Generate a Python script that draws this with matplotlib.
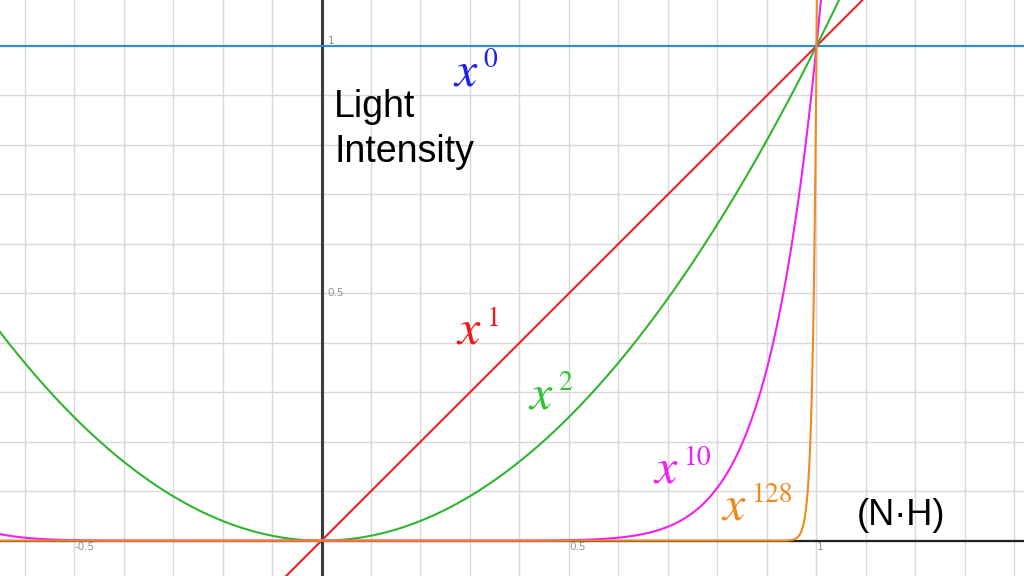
import numpy as np
import matplotlib
matplotlib.use("Agg")
import matplotlib.pyplot as plt
from matplotlib.ticker import MultipleLocator

# exponents of the plotted curves y = x**n
exponents = [0, 1, 2, 10, 128]
curve_colors = ["#2b8ce0", "#f02020", "#2fb52f", "#f020f0", "#f08a20"]
label_colors = ["#2020e8", "#f01818", "#33c433", "#f020f0", "#f08a20"]
label_sups = ["0", "1", "2", "10", "128"]
# left edge / baseline of each "x" label, in data units
label_pos = [(0.266, 0.921), (0.272, 0.398), (0.417, 0.268), (0.670, 0.117), (0.807, 0.042)]

x_ticks = [-0.5, 0.5, 1]
y_ticks = [0.5, 1]

XLIM = (-0.6495, 1.4192)
YLIM = (-0.0714, 1.093)

plt.rcParams["mathtext.fontset"] = "stix"

fig = plt.figure(figsize=(10.24, 5.76), dpi=100)
ax = fig.add_axes([0, 0, 1, 1])
ax.set_xlim(*XLIM)
ax.set_ylim(*YLIM)
for s in ax.spines.values():
    s.set_visible(False)
ax.tick_params(which="both", length=0, labelbottom=False, labelleft=False)
ax.set_axisbelow(True)

# grid every 0.1
ax.xaxis.set_major_locator(MultipleLocator(0.1))
ax.yaxis.set_major_locator(MultipleLocator(0.1))
ax.grid(which="major", color="#d8d8d8", lw=1.0)

# axes lines
ax.axvline(0, color="#3c3c3c", lw=2.2, zorder=1)
ax.axhline(0, color="#222222", lw=1.6, zorder=1)

x = np.linspace(XLIM[0], XLIM[1], 4000)
for n, c in zip(exponents, curve_colors):
    ax.plot(x, x ** n, color=c, lw=1.5, zorder=3)

# tick labels
for t in x_ticks:
    ax.text(t, -0.003, f"{t:g}", color="#909090", fontsize=7.5,
            ha="left", va="top", zorder=4)
for t in y_ticks:
    ax.text(0.012, t, f"{t:g}", color="#909090", fontsize=7.5,
            ha="left", va="bottom" if t == 1 else "center", zorder=4)

for (lx, ly), sup, c in zip(label_pos, label_sups, label_colors):
    ax.text(lx, ly, "$x$", color=c, fontsize=36, ha="left", va="baseline", zorder=5)
    ax.annotate(sup, xy=(lx, ly), xytext=(22, 13), textcoords="offset points",
                color=c, fontsize=20, family="STIXGeneral",
                ha="left", va="baseline", zorder=5)

ax.text(0.026, 0.856, "Light", color="black", fontsize=27,
        family="Liberation Sans", ha="left", va="baseline", zorder=5)
ax.text(0.026, 0.766, "Intensity", color="black", fontsize=27,
        family="Liberation Sans", ha="left", va="baseline", zorder=5)
ax.text(1.082, 0.0317, "(N\u00b7H)", color="black", fontsize=26,
        family="Liberation Sans", ha="left", va="baseline", zorder=5)

fig.savefig("out.png", dpi=100)
